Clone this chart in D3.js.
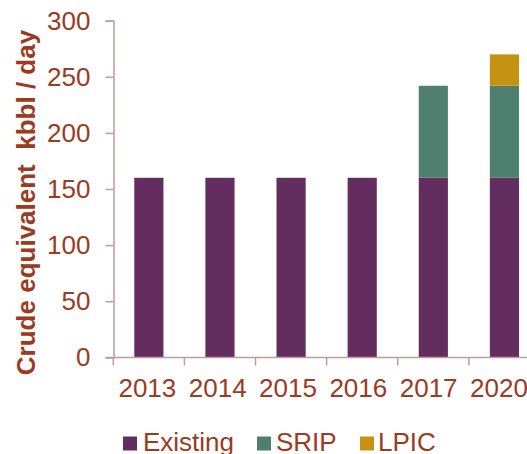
<!DOCTYPE html>
<html><head><meta charset="utf-8">
<script src="https://cdn.jsdelivr.net/npm/d3@7"></script>
<style>body{margin:0;background:#fff}svg{display:block;font-family:"Liberation Sans",Arial,sans-serif}</style>
</head><body><svg id="c" width="527" height="454"></svg>
<script>
const years = ["2013","2014","2015","2016","2017","2020"];
const existing = [160,160,160,160,160,160];
const srip = [0,0,0,0,82,82];
const lpic = [0,0,0,0,0,28];
const seriesNames = ["Existing","SRIP","LPIC"];
const colors = ["#632d60","#4f7f6e","#c69214"];
const yTicks = [0,50,100,150,200,250,300];
const textColor = "#9c3a22", axisColor = "#c09c9c";

const svg = d3.select("#c");
const x = d3.scaleBand().domain(years).range([113.3,540]).paddingInner(0.59).paddingOuter(0.295);
const y = d3.scaleLinear().domain([0,300]).range([357.3,20.7]);

const rows = years.map((yr,i)=>({year:yr, Existing:existing[i], SRIP:srip[i], LPIC:lpic[i]}));
const stack = d3.stack().keys(seriesNames)(rows);
svg.append("g").selectAll("g").data(stack).join("g").attr("fill",(d,i)=>colors[i])
  .selectAll("rect").data(d=>d.filter(p=>p[1]-p[0]>0)).join("rect")
  .attr("x",d=>x(d.data.year)).attr("width",x.bandwidth())
  .attr("y",d=>y(d[1])).attr("height",d=>y(d[0])-y(d[1]));

// y axis
const ya = svg.append("g").attr("transform","translate(113.5,0)")
  .call(d3.axisLeft(y).tickValues(yTicks).tickSize(8).tickPadding(15));
ya.select(".domain").attr("stroke",axisColor).attr("stroke-width",1.5);
ya.selectAll(".tick line").attr("stroke",axisColor).attr("stroke-width",1.5);
ya.selectAll("text").attr("fill",textColor).attr("font-size","26px").attr("font-family","Liberation Sans, Arial, sans-serif");

// x axis
const xa = svg.append("g").attr("transform","translate(0,357.5)")
  .call(d3.axisBottom(x).tickSize(0).tickPadding(21.5));
xa.select(".domain").attr("stroke",axisColor).attr("stroke-width",1.5).attr("d","M106,0H527");
xa.selectAll("text").attr("fill",textColor).attr("font-size","26px").attr("font-family","Liberation Sans, Arial, sans-serif")
  .attr("dx",(d,i)=>-1.5 - 0.8*i);
const step = x.step();
svg.append("g").selectAll("line").data(years).join("line")
  .attr("x1",d=>x(d)-x.paddingOuter()*step).attr("x2",d=>x(d)-x.paddingOuter()*step)
  .attr("y1",357.5).attr("y2",365.5).attr("stroke",axisColor).attr("stroke-width",1.5);

// y title
svg.append("text").attr("transform","translate(35,202.5) rotate(-90)")
  .attr("text-anchor","middle").attr("font-weight","bold").attr("font-size","26px")
  .attr("fill",textColor).style("white-space","pre")
  .text("Crude equivalent  kbbl / day");

// legend
const legX = [123,257,360];
const lg = svg.append("g").selectAll("g").data(seriesNames).join("g")
  .attr("transform",(d,i)=>`translate(${legX[i]},436.5)`);
lg.append("rect").attr("width",14).attr("height",14).attr("fill",(d,i)=>colors[i]);
lg.append("text").attr("x",(d,i)=>[20,19,18][i]).attr("y",14.5).attr("font-size","26px")
  .attr("fill",textColor).text(d=>d);
</script></body></html>
